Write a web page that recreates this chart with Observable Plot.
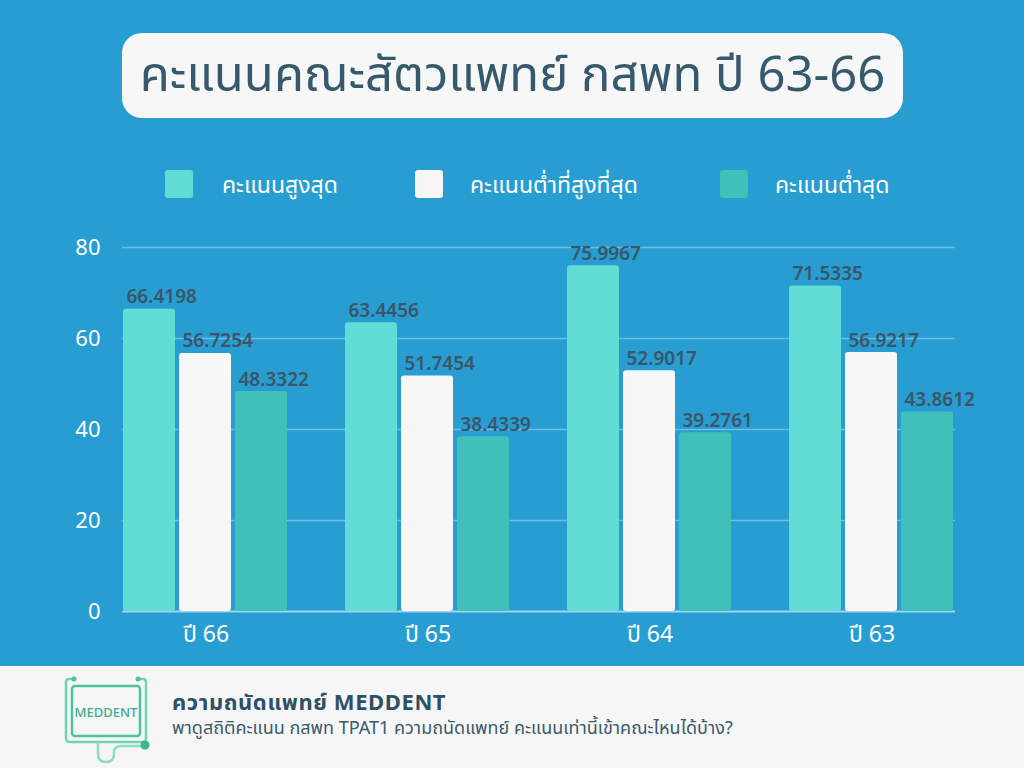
<!DOCTYPE html>
<html>
<head>
<meta charset="utf-8">
<script src="https://cdn.jsdelivr.net/npm/d3@7"></script>
<script src="https://cdn.jsdelivr.net/npm/@observablehq/plot@0.6"></script>
<style>
  html, body { margin:0; padding:0; }
  body { width:1024px; height:768px; background:#289dd2; position:relative; overflow:hidden;
         font-family: "Noto Sans", "Noto Sans Thai", Roboto, sans-serif; }
  #title { position:absolute; left:122px; top:33px; width:781px; height:85px; background:#f7f7f7;
           border-radius:20px; display:flex; align-items:center; justify-content:center;
           font-size:49px; color:#37596c; }
  #legend { position:absolute; left:0; top:170px; width:1024px; height:28px; }
  .sw { width:28px; height:28px; border-radius:3px; }
  .lt { position:absolute; white-space:nowrap; font-size:23px; color:#ffffff; }
  #grid, #chart { position:absolute; left:0; top:230px; }
  #footer { position:absolute; left:0; top:666px; width:1024px; height:102px; background:#f6f6f6; }
  #fh { position:absolute; left:172px; top:686px; font-size:22px; font-weight:700; color:#2f5064; letter-spacing:0.6px; }
  #fs { position:absolute; left:172px; top:715px; font-size:18px; color:#3a5a6d; }
  #logo { position:absolute; left:60px; top:674px; }
</style>
</head>
<body>
<div id="title">คะแนนคณะสัตวแพทย์ กสพท ปี 63-66</div>
<div id="legend"></div>
<div id="grid"></div>
<div id="chart"></div>
<div id="footer"></div>
<svg id="logo" width="100" height="90" viewBox="0 0 100 90">
  <g fill="none" stroke="#6fd3b5" stroke-width="2.5">
    <path d="M14 5 H9 Q6 5 6 8 V64 Q6 68 10 68 H82 Q86 68 86 64 V8 Q86 5 83 5 H78"/>
    <rect x="12" y="12" width="68" height="50" rx="3" stroke="#4cc29e"/>
    <path d="M38 68 V80 Q38 88 46 88 Q54 88 54 80 V78 Q54 72 62 72 H82" stroke="#8fdcc4"/>
  </g>
  <circle cx="14" cy="5" r="2.5" fill="#4cc29e"/>
  <circle cx="78" cy="5" r="2.5" fill="#4cc29e"/>
  <circle cx="85" cy="71" r="4.5" fill="#3fb28f"/>
  <text x="46" y="43" text-anchor="middle" font-size="13" fill="#3aae8c" font-family="Noto Sans, sans-serif" font-weight="500">MEDDENT</text>
</svg>
<div id="fh">ความถนัดแพทย์ MEDDENT</div>
<div id="fs">พาดูสถิติคะแนน กสพท TPAT1 ความถนัดแพทย์ คะแนนเท่านี้เข้าคณะไหนได้บ้าง?</div>
<script>
// ---- data ----
const years = ["ปี 66", "ปี 65", "ปี 64", "ปี 63"];
const seriesNames = ["คะแนนสูงสุด", "คะแนนต่ำที่สูงที่สุด", "คะแนนต่ำสุด"];
const highest = [66.4198, 63.4456, 75.9967, 71.5335];
const highestOfMin = [56.7254, 51.7454, 52.9017, 56.9217];
const lowest = [48.3322, 38.4339, 39.2761, 43.8612];
const yTicks = [0, 20, 40, 60, 80];
const seriesColors = ["#62ddd6", "#f7f7f7", "#41c0b9"];

const seriesValues = [highest, highestOfMin, lowest];
const rows = years.flatMap((yr, i) =>
  seriesNames.map((s, j) => ({ year: yr, series: s, value: seriesValues[j][i] }))
);

// ---- legend ----
const legendPos = [[165, 222], [415, 470], [720, 775]];
const legend = document.getElementById("legend");
seriesNames.forEach((s, j) => {
  const sw = document.createElement("div");
  sw.className = "sw";
  sw.style.position = "absolute";
  sw.style.left = legendPos[j][0] + "px";
  sw.style.background = seriesColors[j];
  legend.appendChild(sw);
  const t = document.createElement("div");
  t.className = "lt";
  t.style.left = legendPos[j][1] + "px";
  t.style.top = "0px";
  t.style.lineHeight = "28px";
  t.textContent = s;
  legend.appendChild(t);
});

const dims = { width: 1024, height: 430, marginLeft: 122, marginRight: 69, marginTop: 17, marginBottom: 49 };

// ---- gridlines (full width, behind the bars) ----
const grid = Plot.plot({
  ...dims,
  style: { background: "transparent" },
  y: { domain: [0, 80], axis: null },
  marks: [
    Plot.ruleY(yTicks.filter(d => d > 0), { stroke: "#6cbde4", strokeWidth: 1.5 }),
    Plot.ruleY([0], { stroke: "#a3d4ee", strokeWidth: 2 })
  ]
});
document.getElementById("grid").appendChild(grid);

// ---- chart ----
const chart = Plot.plot({
  ...dims,
  style: { background: "transparent", fontFamily: "Noto Sans, Noto Sans Thai, sans-serif", overflow: "visible" },
  fx: { domain: years, paddingInner: 0.25, paddingOuter: 0, label: null },
  x: { domain: seriesNames, paddingInner: 0.07, paddingOuter: 0, axis: null },
  y: { domain: [0, 80], label: null },
  color: { domain: seriesNames, range: seriesColors },
  marks: [
    Plot.barY(rows, { fx: "year", x: "series", y: "value", fill: "series", rx: 3 }),
    Plot.text(rows, {
      fx: "year", x: "series", y: "value",
      text: d => d.value.toFixed(4),
      textAnchor: "start", dx: -23, dy: -12,
      fill: "#3a5668", fontSize: 19, fontWeight: 600
    }),
    Plot.axisY(yTicks, { tickSize: 0, tickPadding: 22, fontSize: 22, color: "#ffffff", label: null }),
    Plot.axisFx({ anchor: "bottom", tickSize: 0, tickPadding: 14, fontSize: 23, color: "#ffffff", label: null })
  ]
});
document.getElementById("chart").appendChild(chart);
</script>
</body>
</html>
